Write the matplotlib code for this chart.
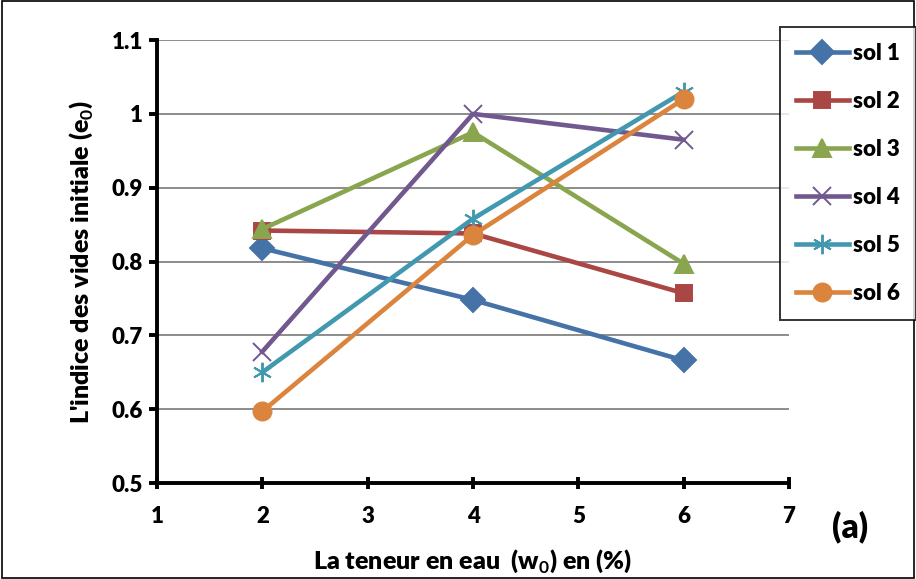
import matplotlib.pyplot as plt
from matplotlib.patches import Rectangle

plt.rcParams["font.family"] = ["Lato", "DejaVu Sans"]
plt.rcParams["font.weight"] = "bold"
plt.rcParams["mathtext.fontset"] = "custom"
plt.rcParams["mathtext.bf"] = "Lato:bold"

w0 = [2, 4, 6]
sol1 = [0.818, 0.748, 0.666]
sol2 = [0.842, 0.838, 0.757]
sol3 = [0.844, 0.975, 0.797]
sol4 = [0.678, 1.0, 0.965]
sol5 = [0.650, 0.858, 1.030]
sol6 = [0.597, 0.836, 1.020]

series = [
    ("sol 1", sol1, "#4572A7", "D", 12),
    ("sol 2", sol2, "#AA4643", "s", 12),
    ("sol 3", sol3, "#89A54E", "^", 13),
    ("sol 4", sol4, "#71588F", "x", 13),
    ("sol 5", sol5, "#4198AF", (6, 2, 0), 14),
    ("sol 6", sol6, "#DB843D", "o", 13),
]

fig = plt.figure(figsize=(9.16, 5.79), dpi=100)
ax = fig.add_axes([0.1714, 0.1658, 0.690, 0.765])

for label, vals, color, marker, ms in series:
    ax.plot(w0, vals, color=color, lw=3.3, marker=marker, markersize=ms,
            markeredgewidth=1.4, markeredgecolor=color, label=label)

ax.set_xlim(1, 7)
ax.set_ylim(0.5, 1.1)
ax.set_xticks(range(1, 8))
ax.set_yticks([0.5, 0.6, 0.7, 0.8, 0.9, 1.0, 1.1])
ax.set_yticklabels(["0.5", "0.6", "0.7", "0.8", "0.9", "1", "1.1"])
ax.yaxis.grid(True, color="#8c8c8c", lw=1.4)
ax.set_axisbelow(True)
for s in ["top", "right"]:
    ax.spines[s].set_visible(False)
for s in ["left", "bottom"]:
    ax.spines[s].set_linewidth(2.8)
ax.tick_params(axis="x", direction="inout", length=9, width=2.8, labelsize=16, pad=12)
ax.tick_params(axis="y", direction="out", length=6, width=2.8, labelsize=16, pad=4)
for t in ax.get_xticklabels() + ax.get_yticklabels():
    t.set_fontweight("heavy")

ax.set_xlabel("La teneur en eau  (w$_\\mathbf{0}$) en (%)", fontsize=18, fontweight="heavy", labelpad=15)
ax.set_ylabel("L'indice des vides initiale (e$_\\mathbf{0}$)", fontsize=18, fontweight="heavy", labelpad=12)

leg = fig.legend(loc="upper left", bbox_to_anchor=(780 / 916, 1 - 27 / 579),
                 frameon=True, fancybox=False, edgecolor="black", fontsize=16,
                 handlelength=2.4, labelspacing=1.22, borderpad=0.7,
                 handletextpad=0.2, borderaxespad=0)
leg.get_frame().set_linewidth(1.4)
for t in leg.get_texts():
    t.set_fontweight("heavy")

fig.text(850 / 916, 1 - 527 / 579, "(a)", fontsize=24, fontweight="heavy",
         ha="center", va="center")

fig.patches.append(Rectangle((0.002, 0.002), 0.996, 0.996, transform=fig.transFigure,
                             fill=False, edgecolor="black", lw=1.2))

fig.savefig("out.png", dpi=100)
